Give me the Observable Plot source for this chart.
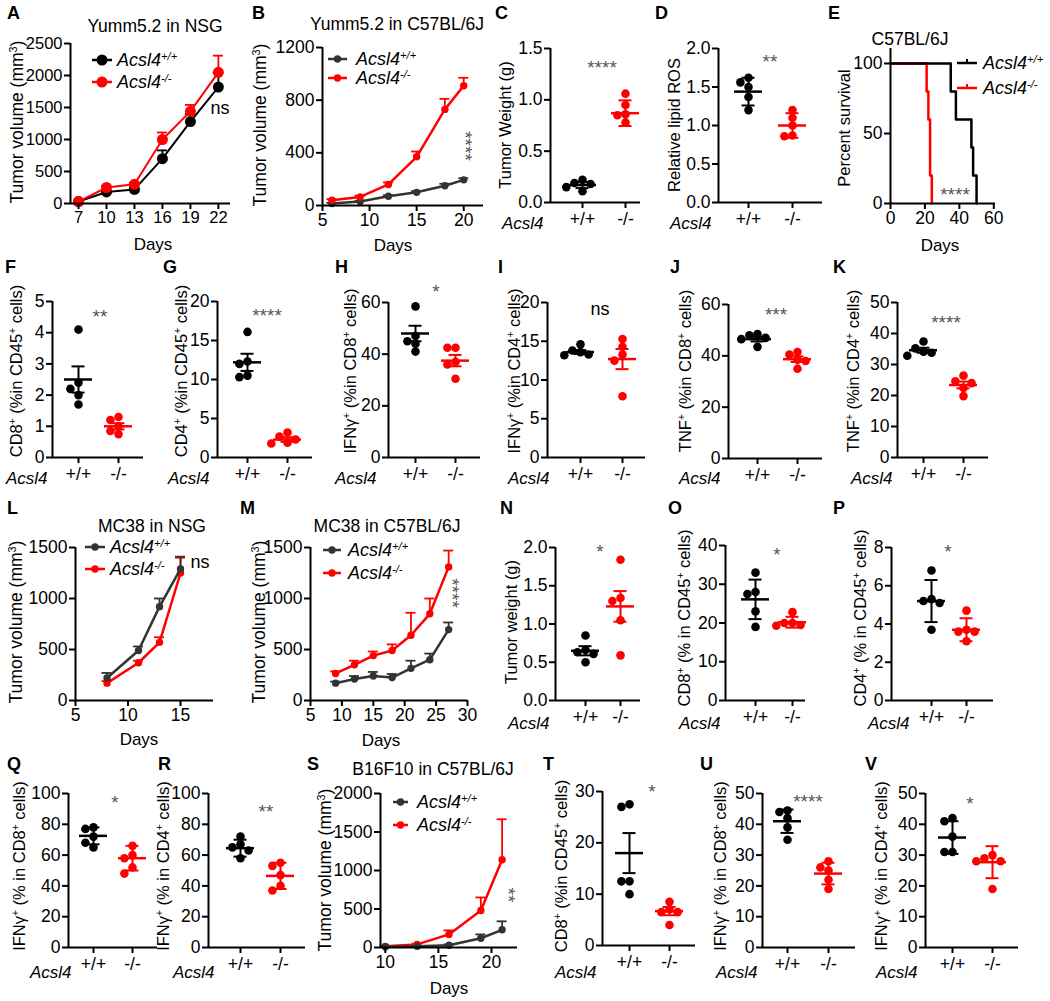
<!DOCTYPE html>
<html><head><meta charset="utf-8">
<script src="https://cdn.jsdelivr.net/npm/d3@7"></script>
<script src="https://cdn.jsdelivr.net/npm/@observablehq/plot@0.6"></script>
<style>
body{margin:0;background:#fff;}
#fig{position:relative;width:1050px;height:1001px;overflow:hidden;background:#fff;font-family:'Liberation Sans',Arial,Helvetica,sans-serif;color:#000;}
#fig svg text{font-family:'Liberation Sans',Arial,Helvetica,sans-serif !important;font-size:17.5px !important;}
#fig svg.pA text{font-size:16.5px !important;}
.abs{position:absolute;white-space:nowrap;line-height:1;}
.abs sup{font-size:0.62em;vertical-align:0.55em;line-height:0;}
.let{font-weight:bold;font-size:18px;}
.ttl{font-size:17.5px;}
.ylab{font-size:16.5px;}
.ylabL{font-size:17.5px;}
.days{font-size:17px;}
.acsl{font-size:17px;font-style:italic;}
.leg{font-size:18px;font-style:italic;}
.ast{font-size:19px;color:#555;}
.ns{font-size:18px;}
</style></head><body><div id="fig"></div>
<script>
// ================= DATA =================
const genotypes = ["+/+", "-/-"];

// A: Yumm5.2 in NSG (tumor volume, mean + SEM)
const daysA = [7, 10, 13, 16, 19, 22];
const wtA = [30, 180, 220, 700, 1280, 1820];
const wtErrA = [10, 30, 30, 130, 120, 220];
const koA = [30, 250, 300, 1000, 1440, 2050];
const koErrA = [10, 25, 25, 110, 100, 260];
const yTicksA = [0, 500, 1000, 1500, 2000, 2500];
const xTicksA = [7, 10, 13, 16, 19, 22];

// B: Yumm5.2 in C57BL/6J
const daysB = [6, 9, 12, 15, 18, 20];
const wtB = [15, 30, 70, 100, 150, 195];
const wtErrB = [5, 6, 8, 10, 15, 12];
const koB = [40, 65, 160, 370, 730, 910];
const koErrB = [8, 10, 15, 40, 80, 60];
const yTicksB = [0, 400, 800, 1200];
const xTicksB = [5, 10, 15, 20];

// C: tumor weight (g)
const wtC = [0.22, 0.19, 0.18, 0.15, 0.11];
const koC = [1.06, 0.95, 0.86, 0.85, 0.78];
const meanC = [0.17, 0.87], errC = [0.03, 0.125];
const yTicksC = [0, 0.5, 1.0, 1.5];

// D: relative lipid ROS
const wtD = [1.62, 1.56, 1.50, 1.37, 1.20];
const koD = [1.20, 1.10, 1.00, 0.87, 0.86];
const meanD = [1.44, 1.0], errD = [0.18, 0.16];
const yTicksD = [0, 0.5, 1.0, 1.5, 2.0];

// E: survival (Kaplan-Meier steps)
const timeWtE = [0, 35, 38, 47, 48, 50];
const survWtE = [100, 80, 60, 40, 20, 0];
const timeKoE = [0, 21, 22, 23, 24];
const survKoE = [100, 80, 60, 20, 0];
const yTicksE = [0, 50, 100];
const xTicksE = [0, 20, 40, 60];

// F-K
const wtF = [4.1, 2.4, 2.2, 2.0, 1.7], koF = [1.3, 1.2, 1.0, 0.85, 0.75];
const meanF = [2.5, 1.0], errF = [0.42, 0.1];
const yTicksF = [0, 1, 2, 3, 4, 5];
const wtG = [16.1, 12.3, 12.0, 10.5, 10.3], koG = [3.2, 2.7, 2.3, 1.9, 1.8];
const meanG = [12.2, 2.3], errG = [1.1, 0.3];
const yTicksG = [0, 5, 10, 15, 20];
const wtH = [58.5, 47, 45, 44, 41], koH = [42.5, 42.5, 37, 36, 30.5];
const meanH = [48, 37.5], errH = [3, 2.2];
const yTicksH = [0, 20, 40, 60];
const wtI = [14.6, 13.8, 13.6, 13.3, 13.2], koI = [15.3, 14.3, 13.3, 12.5, 7.9];
const meanI = [13.6, 12.7], errI = [0.25, 1.3];
const yTicksI = [0, 5, 10, 15, 20];
const wtJ = [48.5, 48, 47, 46.5, 43.5], koJ = [41.5, 40.5, 38.5, 38, 35];
const meanJ = [46.5, 38.7], errJ = [0.9, 1.1];
const yTicksJ = [0, 20, 40, 60];
const wtK = [37.4, 35.2, 34.1, 33.8, 32.8], koK = [26.4, 24.6, 24, 22.4, 19.8];
const meanK = [34.6, 23.4], errK = [0.8, 1.1];
const yTicksK = [0, 10, 20, 30, 40, 50];

// L: MC38 in NSG
const daysL = [8, 11, 13, 15];
const wtL = [220, 490, 920, 1290];
const wtErrL = [50, 40, 80, 120];
const koL = [170, 370, 570, 1250];
const koErrL = [20, 20, 50, 150];
const yTicksL = [0, 500, 1000, 1500];
const xTicksL = [5, 10, 15];

// M: MC38 in C57BL/6J
const daysM = [9, 12, 15, 18, 21, 24, 27];
const wtM = [170, 210, 240, 225, 315, 400, 695];
const wtErrM = [15, 30, 40, 35, 75, 60, 70];
const koM = [265, 350, 440, 490, 640, 850, 1310];
const koErrM = [20, 40, 40, 60, 220, 150, 160];
const yTicksM = [0, 500, 1000, 1500];
const xTicksM = [5, 10, 15, 20, 25, 30];

// N-P
const wtN = [0.85, 0.66, 0.63, 0.61, 0.50], koN = [1.84, 1.34, 1.30, 1.05, 0.59];
const meanN = [0.65, 1.23], errN = [0.06, 0.2];
const yTicksN = [0, 0.5, 1.0, 1.5, 2.0];
const wtO = [33, 28, 27.5, 23, 19], koO = [22.8, 20, 20, 19.5, 19.3];
const meanO = [26.1, 20.2], errO = [5.1, 1.4];
const yTicksO = [0, 10, 20, 30, 40];
const wtP = [6.8, 5.3, 5.2, 5.1, 3.7], koP = [4.7, 3.7, 3.6, 3.6, 3.1];
const meanP = [5.2, 3.7], errP = [1.1, 0.6];
const yTicksP = [0, 2, 4, 6, 8];

// Q, R
const wtQ = [78, 77, 72, 68, 65], koQ = [66, 60, 58, 52, 48];
const meanQ = [72.5, 58], errQ = [5.5, 8];
const yTicksQ = [0, 20, 40, 60, 80, 100];
const wtR = [72, 67, 65, 63, 58], koR = [55, 53, 47, 40, 37];
const meanR = [64.5, 46.5], errR = [5.5, 8.5];
const yTicksR = [0, 20, 40, 60, 80, 100];

// S: B16F10 in C57BL/6J
const daysS = [10, 13, 16, 19, 21];
const wtS = [10, 15, 30, 120, 230];
const wtErrS = [5, 5, 10, 50, 110];
const koS = [15, 40, 170, 480, 1140];
const koErrS = [5, 10, 52, 170, 525];
const yTicksS = [0, 500, 1000, 1500, 2000];
const xTicksS = [10, 15, 20];

// T-V
const wtT = [27.5, 27, 12.5, 12.5, 10], koT = [8.5, 7, 6.5, 6.5, 4];
const meanT = [18, 6.7], errT = [3.9, 0.8];
const yTicksT = [0, 10, 20, 30];
const wtU = [44.5, 44, 42, 39, 35], koU = [28, 26, 25, 22, 19];
const meanU = [41, 24], errU = [3.8, 3.5];
const yTicksU = [0, 10, 20, 30, 40, 50];
const wtV = [42, 41, 36, 31, 31], koV = [30, 29, 28, 28, 19];
const meanV = [35.7, 27.7], errV = [5.3, 5.2];
const yTicksV = [0, 10, 20, 30, 40, 50];

// ================= DRAWING =================
const RED = "#ff0000", BLK = "#000", DGR = "#333";
const fig = document.getElementById("fig");
const FONT = "'Liberation Sans', Arial, Helvetica, sans-serif";
const ML = 62, MR = 14, MT = 24, MB = 40;
const fmtInt = d3.format("d"), fmt1 = d3.format(".1f");

function place(svg, left, top) {
  svg.style.position = "absolute";
  svg.style.left = left + "px";
  svg.style.top = top + "px";
  fig.appendChild(svg);
}

function axisMarks(xDomain, yDomain, xTicks, xFmt, yTicks, yFmt, xPad) {
  return [
    Plot.ruleY([yDomain[0]], {strokeWidth: 2}),
    Plot.ruleX([xDomain[0]], {strokeWidth: 2}),
    Plot.axisY({ticks: yTicks, tickFormat: yFmt, tickSize: 6, tickPadding: 2, strokeWidth: 2, label: null}),
    Plot.axisX({ticks: xTicks, tickFormat: xFmt, tickSize: 6, tickPadding: xPad, strokeWidth: 2, label: null})
  ];
}

function makePlot(c, xDomain, yDomain, marks) {
  const w = c.endX - c.axisX, h = c.botY - c.topY;
  const svg = Plot.plot({
    width: w + ML + MR, height: h + MT + MB,
    marginLeft: ML, marginRight: MR, marginTop: MT, marginBottom: MB,
    x: {domain: xDomain}, y: {domain: yDomain},
    style: {background: "transparent", fontFamily: FONT, color: "#000", overflow: "visible"},
    marks
  });
  if (c.cls) svg.classList.add(c.cls);
  place(svg, c.axisX - ML, c.topY - MT);
}

function linePanel(c) {
  const ppx = (c.endX - c.axisX) / (c.xDomain[1] - c.xDomain[0]);
  const cap = c.cap / 2 / ppx;
  const marks = [];
  for (const s of c.series) {
    const data = s.days.map((d, i) => ({d, v: s.v[i], e: s.e[i]}));
    marks.push(
      Plot.ruleX(data, {x: "d", y1: "v", y2: q => q.v + q.e, stroke: s.color, strokeWidth: 1.8}),
      Plot.ruleY(data, {y: q => q.v + q.e, x1: q => q.d - cap, x2: q => q.d + cap, stroke: s.color, strokeWidth: 1.8}),
      Plot.line(data, {x: "d", y: "v", stroke: s.color, strokeWidth: c.sw}),
      Plot.dot(data, {x: "d", y: "v", r: c.r, fill: s.color})
    );
  }
  marks.push(...axisMarks(c.xDomain, c.yDomain, c.xTicks, fmtInt, c.yTicks, fmtInt, 2));
  makePlot(c, c.xDomain, c.yDomain, marks);
}

function swarm(vals, pxPerUnit, r) {
  const idx = vals.map((_, i) => i).sort((a, b) => vals[b] - vals[a]);
  const placed = [], off = vals.map(() => 0);
  const step = 2 * r - 0.5;
  const cands = [0, -step, step, -2 * step, 2 * step];
  for (const i of idx) {
    const y = vals[i] * pxPerUnit;
    let chosen = cands[cands.length - 1];
    for (const cc of cands) {
      if (placed.every(p => Math.hypot(p.x - cc, p.y - y) >= 2 * r - 1)) { chosen = cc; break; }
    }
    off[i] = chosen; placed.push({x: chosen, y});
  }
  return off;
}

function scatterPanel(c) {
  const gap = c.cat2 - c.cat1;
  const xDomain = [(c.axisX - c.cat1) / gap, (c.endX - c.cat1) / gap];
  const yDomain = [0, c.yMax];
  const ppy = (c.botY - c.topY) / c.yMax;
  const r = 4.3;
  const marks = [];
  const mw = 14 / gap, cw = 6.5 / gap;
  [c.wt, c.ko].forEach((vals, g) => {
    const col = g ? RED : BLK;
    const off = swarm(vals, ppy, r);
    const pts = vals.map((v, i) => ({x: g + off[i] / gap, v}));
    const st = [{g, m: c.mean[g], e: c.err[g]}];
    marks.push(
      Plot.dot(pts, {x: "x", y: "v", r, fill: col}),
      Plot.ruleX(st, {x: "g", y1: d => d.m - d.e, y2: d => d.m + d.e, stroke: col, strokeWidth: 2}),
      Plot.ruleY(st, {y: "m", x1: d => d.g - mw, x2: d => d.g + mw, stroke: col, strokeWidth: 2.5}),
      Plot.ruleY(st, {y: d => d.m + d.e, x1: d => d.g - cw, x2: d => d.g + cw, stroke: col, strokeWidth: 2}),
      Plot.ruleY(st, {y: d => d.m - d.e, x1: d => d.g - cw, x2: d => d.g + cw, stroke: col, strokeWidth: 2})
    );
  });
  marks.push(...axisMarks(xDomain, yDomain, [0, 1], i => genotypes[i], c.yTicks, c.fmt || fmtInt, 4));
  makePlot(c, xDomain, yDomain, marks);
}

// ---------- Row 1 ----------
linePanel({axisX: 70, endX: 230, topY: 43, botY: 203, xDomain: [6.14, 23.3], yDomain: [0, 2500], cls: "pA",
  xTicks: xTicksA, yTicks: yTicksA, r: 5.5, sw: 2, cap: 10,
  series: [{days: daysA, v: wtA, e: wtErrA, color: BLK}, {days: daysA, v: koA, e: koErrA, color: RED}]});
linePanel({axisX: 322, endX: 483, topY: 47, botY: 205, xDomain: [5, 22.1], yDomain: [0, 1200],
  xTicks: xTicksB, yTicks: yTicksB, r: 3.7, sw: 2.5, cap: 10,
  series: [{days: daysB, v: wtB, e: wtErrB, color: DGR}, {days: daysB, v: koB, e: koErrB, color: RED}]});
scatterPanel({axisX: 550, cat1: 582, cat2: 625, endX: 640, topY: 48, botY: 202, yMax: 1.5, yTicks: yTicksC, fmt: fmt1,
  wt: wtC, ko: koC, mean: meanC, err: errC});
scatterPanel({axisX: 718, cat1: 748, cat2: 792, endX: 822, topY: 48, botY: 202, yMax: 2.0, yTicks: yTicksD, fmt: fmt1,
  wt: wtD, ko: koD, mean: meanD, err: errD});
(function () {
  const c = {axisX: 890, endX: 995, topY: 48, botY: 203};
  const xDomain = [0, 61], yDomain = [0, 110.7];
  const ko = timeKoE.map((t, i) => ({t, s: survKoE[i]}));
  const wt = timeWtE.map((t, i) => ({t, s: survWtE[i]}));
  const marks = [
    Plot.line(ko, {x: "t", y: "s", curve: "step-after", stroke: RED, strokeWidth: 2.5}),
    Plot.line(wt, {x: "t", y: "s", curve: "step-after", stroke: BLK, strokeWidth: 2.5}),
    ...axisMarks(xDomain, yDomain, xTicksE, fmtInt, yTicksE, fmtInt, 2)
  ];
  makePlot(c, xDomain, yDomain, marks);
})();

// ---------- Row 2 ----------
scatterPanel({axisX: 52, cat1: 78, cat2: 118, endX: 143, topY: 301, botY: 457, yMax: 5, yTicks: yTicksF, wt: wtF, ko: koF, mean: meanF, err: errF});
scatterPanel({axisX: 217, cat1: 247, cat2: 287, endX: 312, topY: 301, botY: 457, yMax: 20, yTicks: yTicksG, wt: wtG, ko: koG, mean: meanG, err: errG});
scatterPanel({axisX: 388, cat1: 415, cat2: 455, endX: 480, topY: 302, botY: 457, yMax: 60, yTicks: yTicksH, wt: wtH, ko: koH, mean: meanH, err: errH});
scatterPanel({axisX: 547, cat1: 580, cat2: 622, endX: 645, topY: 302, botY: 457, yMax: 20, yTicks: yTicksI, wt: wtI, ko: koI, mean: meanI, err: errI});
scatterPanel({axisX: 728, cat1: 757, cat2: 797, endX: 822, topY: 304, botY: 458, yMax: 60, yTicks: yTicksJ, wt: wtJ, ko: koJ, mean: meanJ, err: errJ});
scatterPanel({axisX: 897, cat1: 923, cat2: 963, endX: 988, topY: 302, botY: 457, yMax: 50, yTicks: yTicksK, wt: wtK, ko: koK, mean: meanK, err: errK});

// ---------- Row 3 ----------
linePanel({axisX: 75, endX: 213, topY: 547, botY: 700, xDomain: [5, 18.14], yDomain: [0, 1500],
  xTicks: xTicksL, yTicks: yTicksL, r: 3.7, sw: 2.5, cap: 10,
  series: [{days: daysL, v: koL, e: koErrL, color: RED}, {days: daysL, v: wtL, e: wtErrL, color: DGR}]});
linePanel({axisX: 310, endX: 467, topY: 547, botY: 700, xDomain: [5, 30], yDomain: [0, 1500],
  xTicks: xTicksM, yTicks: yTicksM, r: 3.7, sw: 2.5, cap: 10,
  series: [{days: daysM, v: koM, e: koErrM, color: RED}, {days: daysM, v: wtM, e: wtErrM, color: DGR}]});
scatterPanel({axisX: 555, cat1: 585, cat2: 620, endX: 640, topY: 547, botY: 700, yMax: 2.0, yTicks: yTicksN, fmt: fmt1, wt: wtN, ko: koN, mean: meanN, err: errN});
scatterPanel({axisX: 725, cat1: 755, cat2: 792, endX: 805, topY: 545, botY: 700, yMax: 40, yTicks: yTicksO, wt: wtO, ko: koO, mean: meanO, err: errO});
scatterPanel({axisX: 891, cat1: 931, cat2: 966, endX: 993, topY: 547, botY: 700, yMax: 8, yTicks: yTicksP, wt: wtP, ko: koP, mean: meanP, err: errP});

// ---------- Row 4 ----------
scatterPanel({axisX: 68, cat1: 93, cat2: 132, endX: 157, topY: 793, botY: 947, yMax: 100, yTicks: yTicksQ, wt: wtQ, ko: koQ, mean: meanQ, err: errQ});
scatterPanel({axisX: 208, cat1: 240, cat2: 280, endX: 305, topY: 793, botY: 947, yMax: 100, yTicks: yTicksR, wt: wtR, ko: koR, mean: meanR, err: errR});
linePanel({axisX: 380, endX: 517, topY: 793, botY: 947, xDomain: [9.55, 22.45], yDomain: [0, 2000],
  xTicks: xTicksS, yTicks: yTicksS, r: 3.7, sw: 2.5, cap: 10,
  series: [{days: daysS, v: koS, e: koErrS, color: RED}, {days: daysS, v: wtS, e: wtErrS, color: DGR}]});
scatterPanel({axisX: 602, cat1: 629, cat2: 669, endX: 695, topY: 791, botY: 945, yMax: 30, yTicks: yTicksT, wt: wtT, ko: koT, mean: meanT, err: errT});
scatterPanel({axisX: 762, cat1: 787, cat2: 828, endX: 855, topY: 793, botY: 947, yMax: 50, yTicks: yTicksU, wt: wtU, ko: koU, mean: meanU, err: errU});
scatterPanel({axisX: 925, cat1: 952, cat2: 992, endX: 1018, topY: 793, botY: 947, yMax: 50, yTicks: yTicksV, wt: wtV, ko: koV, mean: meanV, err: errV});

// ================= TEXT =================
function txt(html, x, y, cls, tf) {
  const el = document.createElement("div");
  el.className = "abs " + cls;
  el.innerHTML = html;
  el.style.left = x + "px";
  el.style.top = y + "px";
  el.style.transform = tf || "translate(-50%,-50%)";
  fig.appendChild(el);
  return el;
}
const letters = [["A",7,13],["B",252,13],["C",495,13],["D",655,13],["E",828,13],
  ["F",5,267],["G",163,267],["H",335,267],["I",498,267],["J",670,267],["K",833,267],
  ["L",7,508],["M",240,508],["N",500,508],["O",668,508],["P",833,508],
  ["Q",7,764],["R",158,764],["S",307,764],["T",543,764],["U",700,764],["V",865,764]];
letters.forEach(([t, x, y]) => txt(t, x, y, "let", "translate(0,-50%)"));

[["Yumm5.2 in NSG",155,27],["Yumm5.2 in C57BL/6J",397,25],["C57BL/6J",910,40],
 ["MC38 in NSG",152,527],["MC38 in C57BL/6J",387,527],["B16F10 in C57BL/6J",433,770]]
 .forEach(([t, x, y]) => txt(t, x, y, "ttl"));

[[153,244],[393,245],[940,245],[139,739],[381,740],[449,988]].forEach(([x, y]) => txt("Days", x, y, "days"));

const TV = "Tumor volume (mm<sup>3</sup>)";
const ylabsL = [[TV,18,122],[TV,261,125],[TV,17,622],[TV,260,622],[TV,326,870]];
ylabsL.forEach(([t, x, y]) => txt(t, x, y, "ylabL", "translate(-50%,-50%) rotate(-90deg)"));
const ylabs = [
  ["Tumor Weight (g)",505,125],["Relative lipid ROS",674,125],["Percent survival",844,128],
  ["CD8<sup>+</sup> (%in CD45<sup>+</sup> cells)",16,371],["CD4<sup>+</sup> (%in CD45<sup>+</sup> cells)",181,371],
  ["IFNγ<sup>+</sup> (%in CD8<sup>+</sup> cells)",350,371],["IFNγ<sup>+</sup> (%in CD4<sup>+</sup> cells)",514,371],
  ["TNF<sup>+</sup> (%in CD8<sup>+</sup> cells)",685,371],["TNF<sup>+</sup> (%in CD4<sup>+</sup> cells)",853,371],
  ["Tumor weight (g)",511,622],
  ["CD8<sup>+</sup> (% in CD45<sup>+</sup> cells)",684,618],["CD4<sup>+</sup> (% in CD45<sup>+</sup> cells)",860,618],
  ["IFNγ<sup>+</sup> (% in CD8<sup>+</sup> cells)",19,866],["IFNγ<sup>+</sup> (% in CD4<sup>+</sup> cells)",163,866],
  ["CD8<sup>+</sup> (%in CD45<sup>+</sup> cells)",561,866],
  ["IFNγ<sup>+</sup> (% in CD8<sup>+</sup> cells)",720,866],["IFNγ<sup>+</sup> (% in CD4<sup>+</sup> cells)",881,866]
];
ylabs.forEach(([t, x, y]) => txt(t, x, y, "ylab", "translate(-50%,-50%) rotate(-90deg)"));

[[502,223],[670,223],[6,478],[168,478],[335,478],[508,478],[679,478],[851,478],
 [508,723],[679,723],[868,723],[30,972],[173,972],[555,972],[716,972],[876,972]]
 .forEach(([x, y]) => txt("Acsl4", x, y, "acsl", "translate(0,-50%)"));

// significance annotations
[["ns",220,110],["ns",600,311],["ns",200,564]].forEach(([t, x, y]) => txt(t, x, y, "ns", "translate(-50%,-59%)"));
[["****",602,63],["**",770,57],["****",955,190],["**",100,312],["****",267,311],["*",436,287],["***",776,310],
 ["****",946,318],["*",600,547],["*",777,550],["*",948,547],["*",115,798],["**",266,807],["*",652,787],
 ["****",808,797],["*",970,799]].forEach(([t, x, y]) => txt(t, x, y, "ast", "translate(-50%,-28%)"));
[["****",465,146],["****",452,593],["**",508,895]].forEach(([t, x, y]) => txt(t, x, y, "ast", "translate(-50%,-50%) rotate(90deg)"));

// legends
const NS = "http://www.w3.org/2000/svg";
function legend(x0, x1, cy, r, color, tx, html, tick) {
  const s = document.createElementNS(NS, "svg");
  const w = x1 - x0 + 16;
  s.setAttribute("width", w); s.setAttribute("height", 20);
  s.style.position = "absolute"; s.style.left = (x0 - 8) + "px"; s.style.top = (cy - 10) + "px";
  const l = document.createElementNS(NS, "line");
  l.setAttribute("x1", 8); l.setAttribute("x2", w - 8); l.setAttribute("y1", 10); l.setAttribute("y2", 10);
  l.setAttribute("stroke", color); l.setAttribute("stroke-width", 2.5);
  s.appendChild(l);
  if (r > 0) {
    const c = document.createElementNS(NS, "circle");
    c.setAttribute("cx", w / 2); c.setAttribute("cy", 10); c.setAttribute("r", r); c.setAttribute("fill", color);
    s.appendChild(c);
  }
  if (tick) {
    const t = document.createElementNS(NS, "line");
    t.setAttribute("x1", w / 2); t.setAttribute("x2", w / 2); t.setAttribute("y1", 6); t.setAttribute("y2", 10);
    t.setAttribute("stroke", color); t.setAttribute("stroke-width", 2);
    s.appendChild(t);
  }
  fig.appendChild(s);
  txt(html, tx, cy, "leg", "translate(0,-50%)");
}
const WT = "Acsl4<sup>+/+</sup>", KO = "Acsl4<sup>-/-</sup>";
legend(92, 112, 60, 5.5, BLK, 117, WT); legend(92, 112, 82, 5.5, RED, 117, KO);
legend(328, 347, 59, 3.7, DGR, 356, WT); legend(328, 347, 78, 3.7, RED, 356, KO);
legend(957, 977, 63, 0, BLK, 983, WT, true); legend(957, 977, 88, 0, RED, 983, KO, true);
legend(85, 105, 547, 3.7, DGR, 110, WT); legend(85, 105, 569, 3.7, RED, 110, KO);
legend(323, 341, 550, 3.7, DGR, 348, WT); legend(323, 341, 573, 3.7, RED, 348, KO);
legend(393, 408, 802, 3.7, DGR, 417, WT); legend(393, 408, 825, 3.7, RED, 417, KO);
</script></body></html>
